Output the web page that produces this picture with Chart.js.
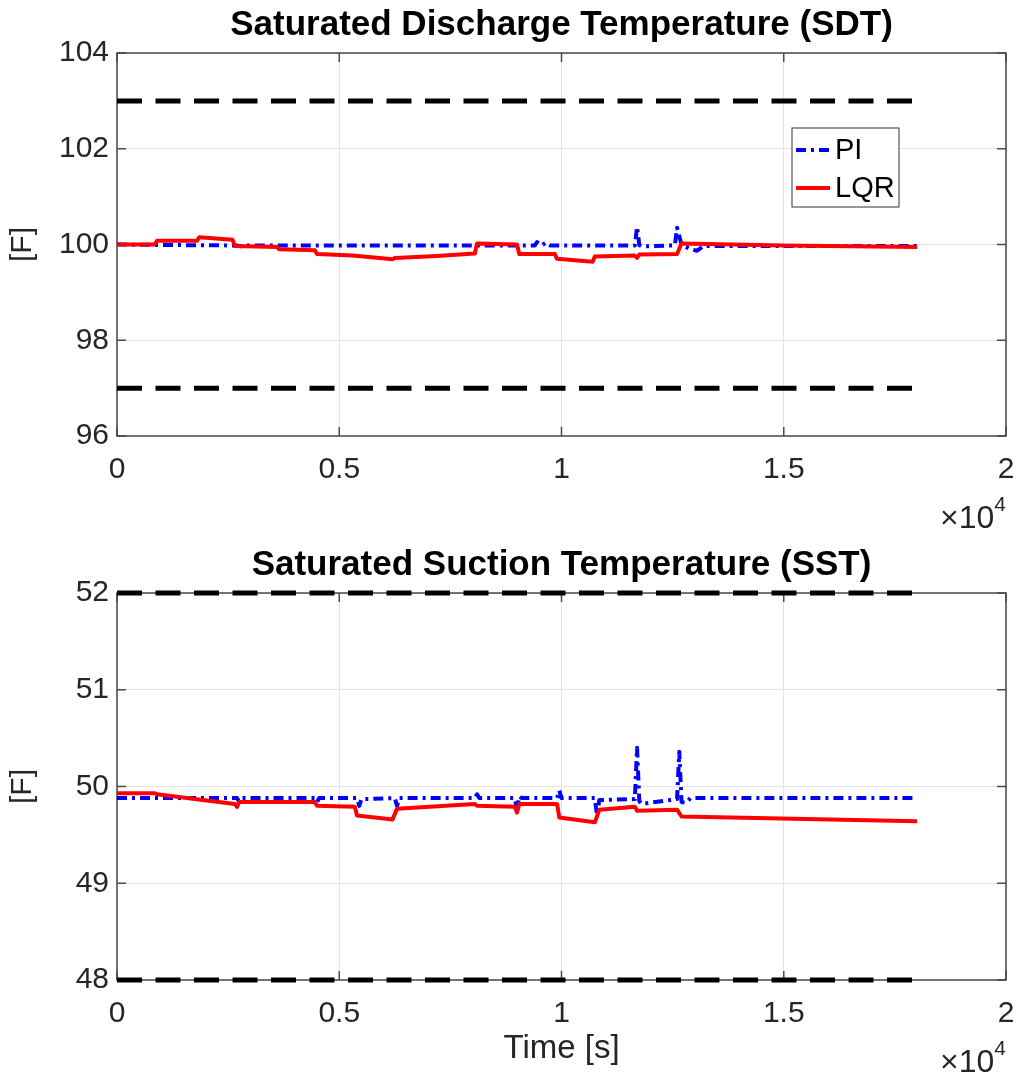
<!DOCTYPE html>
<html>
<head>
<meta charset="utf-8">
<script src="https://cdn.jsdelivr.net/npm/chart.js@4/dist/chart.umd.min.js"></script>
<style>
body { margin: 0; background: #fff; }
canvas { display: block; }
</style>
</head>
<body>
<canvas id="sdtChart" width="1021" height="540"></canvas>
<canvas id="sstChart" width="1021" height="538"></canvas>
<script>
// time in seconds
var sdtTimePI = [0, 1000, 2700, 2800, 2900, 9400, 9450, 9550, 9650, 9750, 11650, 11700, 11750, 11800, 12550, 12600, 12700, 12900, 13050, 13200, 18000];
var sdtPI     = [100.0, 99.99, 99.98, 99.96, 99.98, 99.98, 100.05, 99.98, 100.04, 99.98, 99.98, 100.37, 99.99, 99.96, 99.98, 100.35, 100.0, 99.9, 99.87, 99.97, 99.97];

var sdtTimeLQR = [0, 850, 900, 1800, 1850, 2600, 2650, 3600, 3650, 4450, 4500, 5300, 6200, 6250, 7200, 8050, 8100, 9000, 9050, 9850, 9900, 10700, 10750, 11650, 11700, 11750, 12600, 12700, 15000, 18000];
var sdtLQR     = [100.0, 100.0, 100.08, 100.08, 100.15, 100.1, 99.97, 99.95, 99.9, 99.88, 99.8, 99.77, 99.69, 99.72, 99.76, 99.81, 100.02, 100.0, 99.8, 99.8, 99.7, 99.64, 99.75, 99.77, 99.72, 99.79, 99.8, 100.02, 99.98, 99.95];

var sstTimePI = [0, 2700, 2750, 2800, 4450, 4500, 4550, 5400, 5450, 5500, 6250, 6300, 6350, 8050, 8100, 8150, 8950, 9000, 9050, 9100, 9900, 9950, 10000, 10750, 10800, 10850, 11650, 11700, 11750, 11800, 12600, 12650, 12700, 12800, 12900, 18000];
var sstPI     = [49.88, 49.88, 49.84, 49.88, 49.88, 49.84, 49.88, 49.88, 49.8, 49.87, 49.88, 49.8, 49.88, 49.88, 49.92, 49.88, 49.88, 49.76, 49.9, 49.88, 49.88, 49.96, 49.88, 49.88, 49.7, 49.86, 49.87, 50.4, 49.85, 49.82, 49.87, 50.36, 49.84, 49.83, 49.88, 49.88];

var sstTimeLQR = [0, 850, 900, 2650, 2700, 2750, 4450, 4500, 5350, 5400, 6200, 6300, 8050, 8100, 8950, 9000, 9050, 9900, 9950, 10750, 10850, 11650, 11700, 12600, 12700, 18000];
var sstLQR     = [49.93, 49.93, 49.92, 49.82, 49.79, 49.84, 49.84, 49.8, 49.79, 49.7, 49.66, 49.77, 49.82, 49.8, 49.79, 49.73, 49.82, 49.82, 49.68, 49.63, 49.76, 49.79, 49.75, 49.76, 49.69, 49.64];

// constraint lines
var limitTime = [0, 18000];
var sdtUpper = [103, 103];
var sdtLower = [97, 97];
var sstUpper = [52, 52];
var sstLower = [48, 48];

var xTicks = [0, 5000, 10000, 15000, 20000];
var legendNames = ["PI", "LQR"];

var FONT = "'Liberation Sans', Arial, sans-serif";

function pairs(t, v) {
    var out = [];
    for (var i = 0; i < t.length; i++) out.push({ x: t[i], y: v[i] });
    return out;
}

// box + inward ticks under the data, x10^4 and legend on top
var axesDecor = {
    id: 'axesDecor',
    beforeDatasetsDraw: function (chart) {
        var ctx = chart.ctx, a = chart.chartArea;
        var xs = chart.scales.x, ys = chart.scales.y;
        ctx.save();
        ctx.strokeStyle = '#4a4a4a';
        ctx.lineWidth = 1.5;
        ctx.strokeRect(a.left, a.top, a.right - a.left, a.bottom - a.top);
        ctx.beginPath();
        xs.ticks.forEach(function (t) {
            var px = xs.getPixelForValue(t.value);
            ctx.moveTo(px, a.bottom); ctx.lineTo(px, a.bottom - 9);
            ctx.moveTo(px, a.top); ctx.lineTo(px, a.top + 9);
        });
        ys.ticks.forEach(function (t) {
            var py = ys.getPixelForValue(t.value);
            ctx.moveTo(a.left, py); ctx.lineTo(a.left + 9, py);
            ctx.moveTo(a.right, py); ctx.lineTo(a.right - 9, py);
        });
        ctx.stroke();
        ctx.restore();
    },
    afterDatasetsDraw: function (chart, args, opts) {
        var ctx = chart.ctx, a = chart.chartArea;
        ctx.save();
        // x10^4 exponent label
        ctx.fillStyle = '#262626';
        ctx.textBaseline = 'alphabetic';
        ctx.textAlign = 'right';
        ctx.font = '21px ' + FONT;
        ctx.fillText('4', a.right, a.bottom + 75);
        var w4 = ctx.measureText('4').width;
        ctx.font = '32px ' + FONT;
        ctx.fillText('\u00d710', a.right - w4, a.bottom + 92);

        if (opts.legend) {
            var bx = a.right - 214, by = a.top + 75, bw = 107, bh = 79;
            ctx.fillStyle = '#fff';
            ctx.fillRect(bx, by, bw, bh);
            ctx.strokeStyle = '#333';
            ctx.lineWidth = 1;
            ctx.strokeRect(bx, by, bw, bh);
            var rows = [
                { y: by + 22, color: '#0000ff', dash: [10, 5, 3, 5] },
                { y: by + 60, color: '#ff0000', dash: [] }
            ];
            ctx.lineWidth = 4;
            ctx.font = '29px ' + FONT;
            ctx.textAlign = 'left';
            ctx.textBaseline = 'middle';
            rows.forEach(function (r, i) {
                ctx.strokeStyle = r.color;
                ctx.setLineDash(r.dash);
                ctx.beginPath();
                ctx.moveTo(bx + 4, r.y); ctx.lineTo(bx + 38, r.y);
                ctx.stroke();
                ctx.setLineDash([]);
                ctx.fillStyle = '#000';
                ctx.fillText(legendNames[i], bx + 43, r.y + 1);
            });
        }
        ctx.restore();
    }
};

function makeChart(id, title, tPI, vPI, tLQR, vLQR, up, low, yMin, yMax, yStep, xTitle, showLegend, xHeight) {
    var limitStyle = { borderColor: '#000', borderWidth: 5, borderDash: [25, 13.5], pointRadius: 0, fill: false, clip: 6 };
    return new Chart(document.getElementById(id), {
        type: 'line',
        data: {
            datasets: [
                Object.assign({ label: 'upper', data: pairs(limitTime, up) }, limitStyle),
                Object.assign({ label: 'lower', data: pairs(limitTime, low) }, limitStyle),
                { label: 'LQR', data: pairs(tLQR, vLQR), borderColor: '#ff0000', borderWidth: 4, borderJoinStyle: 'round', pointRadius: 0, fill: false },
                { label: 'PI', data: pairs(tPI, vPI), borderColor: '#0000ff', borderWidth: 4, borderJoinStyle: 'round', borderDash: [10, 5, 3, 5], pointRadius: 0, fill: false }
            ]
        },
        options: {
            responsive: false,
            animation: false,
            layout: { padding: { left: 0, right: 15, top: 0, bottom: 0 } },
            plugins: {
                legend: { display: false },
                tooltip: { enabled: false },
                title: {
                    display: true,
                    fullSize: false,
                    text: title,
                    color: '#000',
                    font: { family: FONT, size: 35, weight: 'bold' },
                    padding: { top: 4, bottom: 7 }
                },
                axesDecor: { legend: showLegend }
            },
            scales: {
                x: {
                    type: 'linear',
                    min: 0,
                    max: 20000,
                    afterBuildTicks: function (s) { s.ticks = xTicks.map(function (v) { return { value: v }; }); },
                    afterFit: function (s) { s.height = xHeight; s.paddingLeft = 0; s.paddingRight = 0; },
                    grid: { color: '#e3e3e3', drawTicks: false },
                    border: { display: false },
                    ticks: {
                        color: '#262626',
                        font: { family: FONT, size: 30 },
                        padding: 16,
                        maxRotation: 0,
                        callback: function (v) { return v / 10000; }
                    },
                    title: {
                        display: !!xTitle,
                        text: xTitle,
                        color: '#262626',
                        font: { family: FONT, size: 33 },
                        padding: { top: 0, bottom: 9 }
                    }
                },
                y: {
                    min: yMin,
                    max: yMax,
                    afterFit: function (s) { s.width = 117; s.paddingTop = 0; s.paddingBottom = 0; },
                    grid: { color: '#e3e3e3', drawTicks: false },
                    border: { display: false },
                    ticks: {
                        stepSize: yStep,
                        color: '#262626',
                        font: { family: FONT, size: 30 },
                        padding: 8
                    },
                    title: {
                        display: true,
                        text: '[F]',
                        color: '#262626',
                        font: { family: FONT, size: 30 },
                        padding: { top: 5, bottom: 0 }
                    }
                }
            }
        },
        plugins: [axesDecor]
    });
}

makeChart('sdtChart', 'Saturated Discharge Temperature (SDT)', sdtTimePI, sdtPI, sdtTimeLQR, sdtLQR,
    sdtUpper, sdtLower, 96, 104, 2, '', true, 104);
makeChart('sstChart', 'Saturated Suction Temperature (SST)', sstTimePI, sstPI, sstTimeLQR, sstLQR,
    sstUpper, sstLower, 48, 52, 1, 'Time [s]', false, 98);
</script>
</body>
</html>
